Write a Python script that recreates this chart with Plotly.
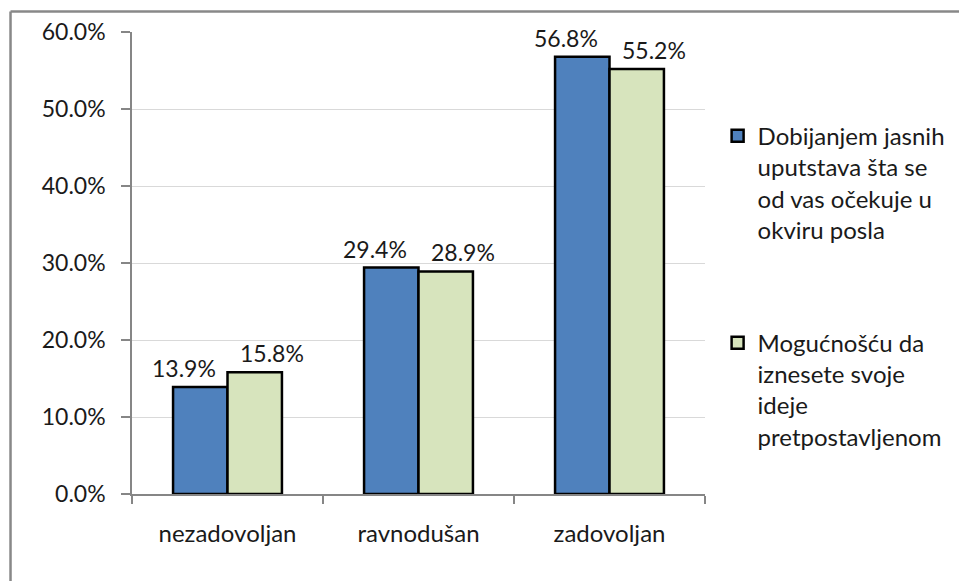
import plotly.graph_objects as go

categories = ["nezadovoljan", "ravnodušan", "zadovoljan"]
series_names = [
    "Dobijanjem jasnih<br>uputstava šta se<br>od vas očekuje u<br>okviru posla",
    "Mogućnošću da<br>iznesete svoje<br>ideje<br>pretpostavljenom",
]
series_a = [0.139, 0.294, 0.568]
series_b = [0.158, 0.289, 0.552]
colors = ["#4F81BD", "#D7E4BD"]
y_ticks = [0, 0.1, 0.2, 0.3, 0.4, 0.5, 0.6]

FONT = "Lato"
TXT = "#1a1a1a"

fig = go.Figure()
for i, (name, vals) in enumerate(zip(series_names, [series_a, series_b])):
    fig.add_trace(go.Bar(
        x=categories, y=vals, name=name, legendgroup=f"g{i}",
        marker=dict(color=colors[i], line=dict(color="#000000", width=2.5)),
    ))
    # value labels, pushed apart horizontally like the original
    for c, v in zip(categories, vals):
        fig.add_annotation(x=c, y=v, xref="x", yref="y",
                           text=f"{v:.1%}", showarrow=False,
                           xanchor="center", yanchor="bottom",
                           xshift=(-44 if i == 0 else 44), yshift=3,
                           font=dict(family=FONT, size=23, color=TXT))

# outer chart border (top and left edges visible only)
border = dict(color="#888888", width=2.5)
fig.add_shape(type="line", xref="paper", yref="paper",
              x0=-0.212, x1=2.0, y0=1.0444, y1=1.0444, line=border, layer="below")
fig.add_shape(type="line", xref="paper", yref="paper",
              x0=-0.212, x1=-0.212, y0=-0.5, y1=1.0444, line=border, layer="below")

fig.update_layout(
    width=959, height=581,
    margin=dict(l=132, r=254, t=32, b=87, autoexpand=False),
    paper_bgcolor="white", plot_bgcolor="white",
    barmode="group", bargap=0.43, bargroupgap=0,
    font=dict(family=FONT, size=23, color=TXT),
    showlegend=True,
    legend=dict(x=1.022, xanchor="left", y=0.823, yanchor="top",
                font=dict(family=FONT, size=24, color=TXT),
                tracegroupgap=79, valign="top", traceorder="grouped",
                itemwidth=30, bgcolor="rgba(0,0,0,0)"),
)
fig.update_yaxes(range=[0, 0.6], tickvals=y_ticks, tickformat=".1%",
                 showgrid=True, gridcolor="#d9d9d9", gridwidth=1,
                 showline=True, linecolor="#868686", linewidth=1.5,
                 ticks="outside", ticklen=9, tickcolor="#868686", tickwidth=1.5,
                 ticklabelstandoff=11, zeroline=False,
                 tickfont=dict(family=FONT, size=23, color=TXT))
fig.update_xaxes(showline=True, linecolor="#868686", linewidth=1.5,
                 ticks="outside", ticklen=8, tickcolor="#868686", tickwidth=1.5,
                 tickson="boundaries", ticklabelstandoff=17,
                 tickfont=dict(family=FONT, size=24, color=TXT))

post = ("document.body.style.margin='0';"
        "document.body.style.overflow='hidden';"
        "document.documentElement.style.overflow='hidden';")
fig.write_html("out.html", post_script=post, config={"displayModeBar": False})
